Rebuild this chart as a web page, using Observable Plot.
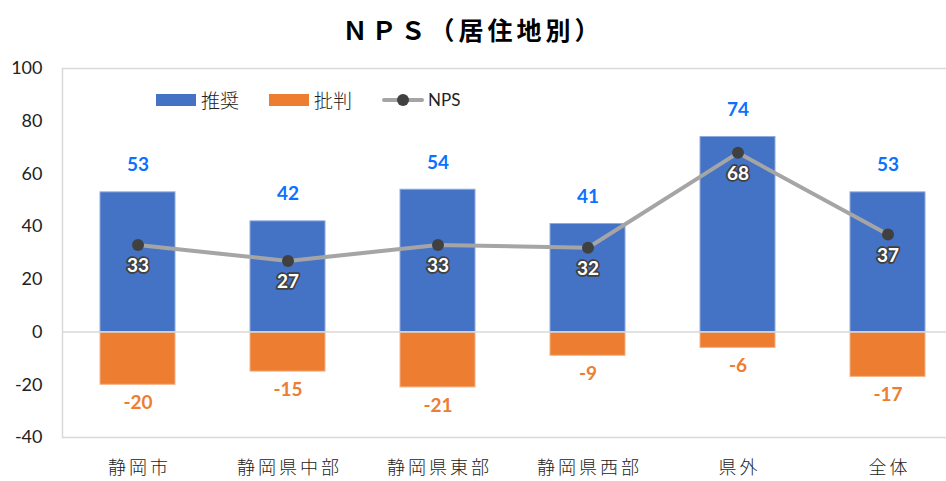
<!DOCTYPE html>
<html>
<head>
<meta charset="utf-8">
<script src="https://cdn.jsdelivr.net/npm/d3@7"></script>
<script src="https://cdn.jsdelivr.net/npm/@observablehq/plot@0.6"></script>
<style>
  html, body { margin: 0; padding: 0; background: #fff; }
  #wrap { position: relative; width: 946px; height: 481px; overflow: hidden; }
  #title { height: 50px; line-height: 58px; text-align: center; font-family: "Noto Sans CJK JP", sans-serif; font-weight: 700; font-size: 25px; letter-spacing: 4px; color: #000; }
  #legend { position: absolute; top: 86px; left: 156px; display: flex; align-items: center; font-family: "Noto Sans CJK JP", sans-serif; font-weight: 300; font-size: 19px; color: #222; }
  .sw { display: inline-block; width: 40px; height: 12px; margin-right: 5px; }
  .item { display: flex; align-items: center; margin-right: 30px; }
  .linesw { position: relative; display: inline-block; width: 42px; height: 12px; margin-right: 4px; }
  .linesw::before { content: ""; position: absolute; left: 0; right: 0; top: 4px; height: 4px; background: #a5a5a5; border-radius: 2px; }
  .linesw::after { content: ""; position: absolute; left: 15px; top: 0; width: 12px; height: 12px; background: #404040; border-radius: 50%; }
  .nps { font-family: Lato, sans-serif; font-weight: 400; font-size: 17px; }
  svg { display: block; }
</style>
</head>
<body>
<div id="wrap">
  <div id="title">ＮＰＳ（居住地別）</div>
  <div id="legend">
    <span class="item"><span class="sw" style="background:#4472c4"></span>推奨</span>
    <span class="item"><span class="sw" style="background:#ed7d31"></span>批判</span>
    <span class="item"><span class="linesw"></span><span class="nps">NPS</span></span>
  </div>
  <div id="chart"></div>
</div>
<script>
const categories = ["静岡市", "静岡県中部", "静岡県東部", "静岡県西部", "県外", "全体"];
const recommend = [53, 42, 54, 41, 74, 53];
const critical = [-20, -15, -21, -9, -6, -17];
const nps = [33, 27, 33, 32, 68, 37];
const yTicks = [-40, -20, 0, 20, 40, 60, 80, 100];

const rows = categories.map((c, i) => ({cat: c, rec: recommend[i], crit: critical[i], nps: nps[i]}));

const numFont = "Lato, 'Open Sans', sans-serif";

const chart = Plot.plot({
  width: 946,
  height: 431,
  marginTop: 18,
  marginBottom: 44,
  marginLeft: 62,
  marginRight: 0,
  style: {background: "transparent", overflow: "visible"},
  x: {domain: categories, range: [62, 962], paddingInner: 0.5, paddingOuter: 0.25, label: null},
  y: {domain: [-40, 100], label: null},
  marks: [
    Plot.ruleY([100, -40], {stroke: "#d9d9d9", strokeWidth: 1.5}),
    Plot.frame({anchor: "left", stroke: "#d9d9d9", strokeWidth: 1.5}),
    Plot.barY(rows, {x: "cat", y: "rec", fill: "#4472c4", stroke: "#8faadc", strokeWidth: 1}),
    Plot.barY(rows, {x: "cat", y: "crit", fill: "#ed7d31", stroke: "#f4b183", strokeWidth: 1}),
    Plot.ruleY([0], {stroke: "#d9d9d9", strokeWidth: 1.5}),
    Plot.line(rows, {x: "cat", y: "nps", stroke: "#a5a5a5", strokeWidth: 4}),
    Plot.dot(rows, {x: "cat", y: "nps", r: 6, fill: "#404040", stroke: "none"}),
    Plot.text(rows, {x: "cat", y: "rec", text: d => String(d.rec), dy: -27, fill: "#0a72ff", fontSize: 19, fontWeight: 700, fontFamily: numFont}),
    Plot.text(rows, {x: "cat", y: "crit", text: d => String(d.crit), dy: 18, fill: "#ed7d31", fontSize: 19, fontWeight: 700, fontFamily: numFont}),
    Plot.text(rows, {x: "cat", y: "nps", text: d => String(d.nps), dy: 21, fill: "#fff", stroke: "#404040", strokeWidth: 3.5, fontSize: 19, fontWeight: 700, fontFamily: numFont}),
    Plot.axisY({ticks: yTicks, tickSize: 0, tickPadding: 20, fontSize: 18, fontFamily: numFont, fill: "#222", tickFormat: d => String(d)}),
    Plot.axisX({tickSize: 0, tickPadding: 24, fontSize: 18, fontWeight: 300, fontFamily: "'Noto Sans CJK JP', sans-serif", fill: "#222", dx: 1.5})
  ]
});
chart.querySelectorAll("g[aria-label='x-axis tick label'] text").forEach(t => { t.style.letterSpacing = "3px"; t.style.fontWeight = "300"; });
document.getElementById("chart").appendChild(chart);
</script>
</body>
</html>
